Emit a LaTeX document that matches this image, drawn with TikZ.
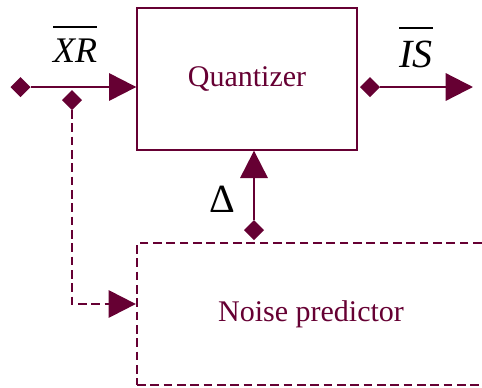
\documentclass[tikz,border=0pt]{standalone}
\usepackage{fontspec}
\setmainfont{Liberation Serif}
\usetikzlibrary{arrows.meta,shapes.geometric,calc}
\definecolor{wine}{RGB}{102,0,51}
% text with a bar drawn over it: #1 = gap between bar and text
\newcommand\barred[2]{\vbox{\hrule height 1.5pt\kern #1\hbox{#2}}}

\begin{document}
\begin{tikzpicture}[x=0.75pt,y=-0.75pt,
  block/.style={draw=wine,line width=1pt,text=wine,
    font=\fontsize{22.5}{26}\selectfont,inner sep=0pt},
  port/.style={diamond,fill=wine,inner sep=0pt,outer sep=0pt,
    minimum width=15pt,minimum height=15pt},
  flow/.style={draw=wine,line width=1.7pt,-{Triangle[length=20.5pt,width=20.5pt]}},
  guess/.style={flow,line width=1.7pt,dash pattern=on 6.5pt off 3.5pt},
  sig/.style={anchor=base,font=\fontsize{28}{32}\selectfont}]
\useasboundingbox (0,0) rectangle (482,387);
\clip (0,0) rectangle (482,387);

% blocks
\node[block,minimum width=165pt,minimum height=106.5pt] (q) at (247,79) {Quantizer};
\node[block,line width=1.7pt,dash pattern=on 6.5pt off 3.5pt,
  minimum width=261pt,minimum height=106.5pt] (np) at (311,314) {Noise predictor};

% ports
\node[port] (in) at (20.5,87) {};
\node[port] (br) at (72,100) {};
\node[port] (out) at (370,87) {};
\node[port] (dq) at (254,230) {};
\coordinate (outtip) at (473,87);
\coordinate (fb) at (72,304);

% connectors
\draw[flow] (in) -- (in -| q.west);
\draw[flow] (out) -- (outtip);
\draw[flow] (dq) -- (dq |- q.south);
\draw[guess] (br.south) -- (fb) -- (fb -| np.west);

% signal labels
\node[sig,font=\fontsize{27}{32}\selectfont] (xr) at (75,62) {\barred{7.5pt}{\itshape XR}};
\node[sig,font=\fontsize{30}{34}\selectfont] (is) at (416,67) {\barred{9pt}{\itshape IS}};
\node[sig,font=\fontsize{30}{34}\selectfont] (d) at (222.5,212) {Δ};
\end{tikzpicture}
\end{document}
